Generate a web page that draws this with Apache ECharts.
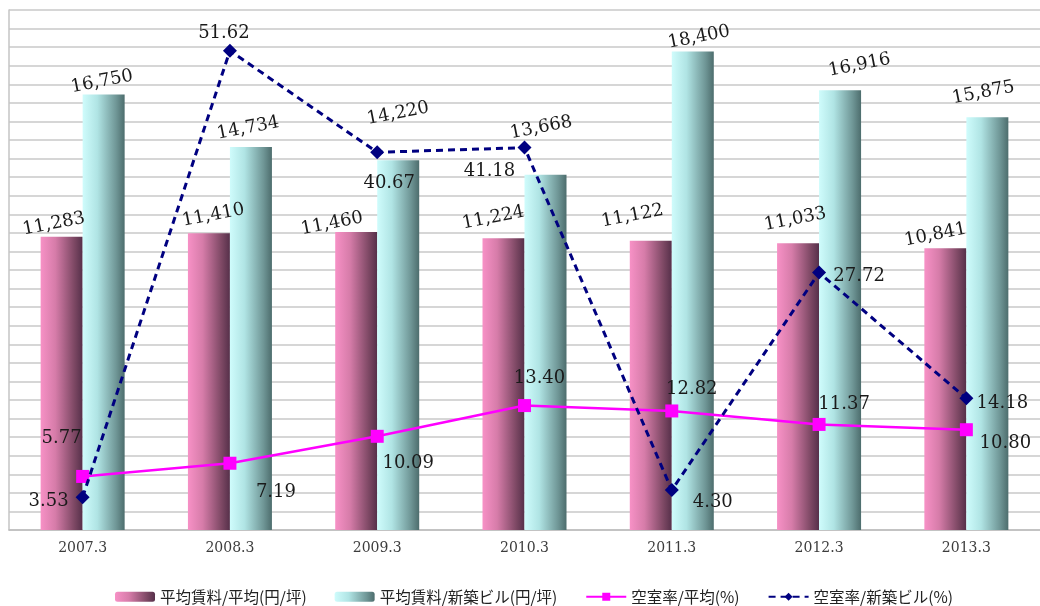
<!DOCTYPE html>
<html><head><meta charset="utf-8">
<script src="https://cdn.jsdelivr.net/npm/echarts@6/dist/echarts.min.js"></script>
<style>html,body{margin:0;padding:0;background:#fff}#c{width:1040px;height:606px}</style>
</head><body><div id="c"></div>
<script>
// ---- data ----
const categories = ['2007.3','2008.3','2009.3','2010.3','2011.3','2012.3','2013.3'];
const rentAvg = [11283, 11410, 11460, 11224, 11122, 11033, 10841];
const rentNew = [16750, 14734, 14220, 13668, 18400, 16916, 15875];
const vacAvg  = [5.77, 7.19, 10.09, 13.40, 12.82, 11.37, 10.80];
const vacNew  = [3.53, 51.62, 40.67, 41.18, 4.30, 27.72, 14.18];
const seriesNames = ['平均賃料/平均(円/坪)', '平均賃料/新築ビル(円/坪)', '空室率/平均(%)', '空室率/新築ビル(%)'];

// ---- label placement (styling only) ----
const rentAvgLabelShift = [[-6,-1],[7,-4],[-23,0],[-7,-9],[-14,-15],[1,-11],[-8,-2]];
const rentNewLabelShift = [[0,0],[0,-6],[8,-33],[4,-34],[8,0],[23,-8],[0,-12]];
const vacAvgLabelShift  = [[-21,-38],[46,29],[31,27],[15,-27],[20,-22],[25,-20],[39,14]];
const vacNewLabelShift  = [[-34,4],[-6,-17],[12,31],[-35,24],[41,12],[40,4],[36,5]];

const fmt = v => v.toLocaleString('en-US');
const serif = 'DejaVu Serif';

function withShift(vals, shifts) {
  return vals.map((v, i) => ({ value: v, label: { offset: shifts[i] } }));
}

const pinkGrad = new echarts.graphic.LinearGradient(0, 0, 1, 0, [
  { offset: 0, color: '#f791c6' },
  { offset: 0.35, color: '#d67ca9' },
  { offset: 0.8, color: '#7d4864' },
  { offset: 1, color: '#56304a' }
]);
const cyanGrad = new echarts.graphic.LinearGradient(0, 0, 1, 0, [
  { offset: 0, color: '#cffcfc' },
  { offset: 0.35, color: '#b0e4e4' },
  { offset: 0.8, color: '#6f9696' },
  { offset: 1, color: '#4d6d6d' }
]);

const barLabel = {
  show: true, position: 'top', distance: 4, rotate: 11,
  formatter: p => fmt(p.value),
  fontFamily: serif, fontSize: 18, color: '#1a1a1a'
};
const lineLabel = {
  show: true, position: 'inside',
  formatter: p => p.value.toFixed(2),
  fontFamily: serif, fontSize: 18, color: '#1a1a1a'
};

const chart = echarts.init(document.getElementById('c'), null, { renderer: 'canvas' });
chart.setOption({
  animation: false,
  backgroundColor: '#ffffff',
  grid: { left: 9, top: 10, bottom: 76, width: 1036, containLabel: false },
  legend: {
    data: seriesNames,
    left: 110,
    top: 584,
    itemWidth: 40,
    itemHeight: 10,
    itemGap: 28,
    textStyle: { fontFamily: 'Noto Sans CJK JP', fontSize: 15.5, color: '#222' }
  },
  xAxis: {
    type: 'category',
    data: categories,
    axisTick: { show: false },
    axisLine: { show: true, lineStyle: { color: '#bdbdbd', width: 1.5 } },
    axisLabel: { fontFamily: serif, fontSize: 14, color: '#3c3c3c', margin: 11 },
    splitLine: { show: false }
  },
  yAxis: [
    {
      type: 'value', min: 0, max: 20000,
      axisLabel: { show: false }, axisTick: { show: false },
      axisLine: { show: true, lineStyle: { color: '#c4c4c4', width: 1.5 } },
      splitLine: { show: false }
    },
    {
      type: 'value', min: 0, max: 56, interval: 2, position: 'left',
      axisLabel: { show: false }, axisTick: { show: false },
      axisLine: { show: false },
      splitLine: { show: true, lineStyle: { color: '#c8c8c8', width: 1.5 } }
    }
  ],
  series: [
    {
      name: seriesNames[0], type: 'bar', yAxisIndex: 0,
      data: withShift(rentAvg, rentAvgLabelShift),
      barWidth: 42, barGap: '0%',
      itemStyle: { color: pinkGrad },
      label: barLabel, z: 2
    },
    {
      name: seriesNames[1], type: 'bar', yAxisIndex: 0,
      data: withShift(rentNew, rentNewLabelShift),
      barWidth: 42, barGap: '0%',
      itemStyle: { color: cyanGrad },
      label: barLabel, z: 2
    },
    {
      name: seriesNames[2], type: 'line', yAxisIndex: 1,
      data: withShift(vacAvg, vacAvgLabelShift),
      symbol: 'rect', symbolSize: 13,
      itemStyle: { color: '#ff00ff' },
      lineStyle: { color: '#ff00ff', width: 2.5 },
      label: lineLabel, z: 5
    },
    {
      name: seriesNames[3], type: 'line', yAxisIndex: 1,
      data: withShift(vacNew, vacNewLabelShift),
      symbol: 'diamond', symbolSize: 14,
      itemStyle: { color: '#000080' },
      lineStyle: { color: '#000080', width: 3, type: [7, 5] },
      label: lineLabel, z: 6
    }
  ]
});
</script>
</body></html>
